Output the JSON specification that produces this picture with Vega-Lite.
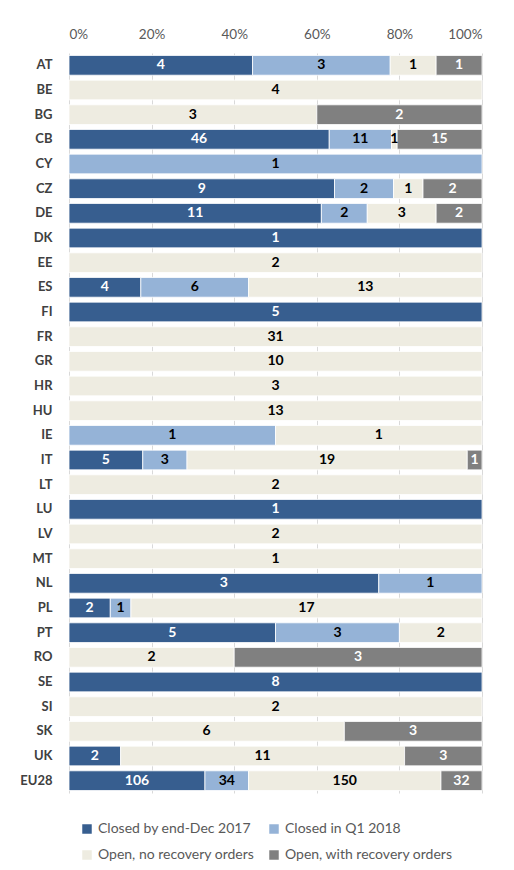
{
  "$schema": "https://vega.github.io/schema/vega-lite/v6.json",
  "width": 413,
  "height": 740,
  "autosize": {"type": "none"},
  "padding": {"left": 69, "top": 53, "right": 32, "bottom": 77},
  "background": "white",
  "config": {
    "font": "Lato",
    "view": {"stroke": null},
    "axis": {"labelFont": "Lato"},
    "legend": {"labelFont": "Lato"}
  },
  "data": {
    "values": [
      {"country": "AT", "Closed by end-Dec 2017": 4, "Closed in Q1 2018": 3, "Open, no recovery orders": 1, "Open, with recovery orders": 1},
      {"country": "BE", "Closed by end-Dec 2017": 0, "Closed in Q1 2018": 0, "Open, no recovery orders": 4, "Open, with recovery orders": 0},
      {"country": "BG", "Closed by end-Dec 2017": 0, "Closed in Q1 2018": 0, "Open, no recovery orders": 3, "Open, with recovery orders": 2},
      {"country": "CB", "Closed by end-Dec 2017": 46, "Closed in Q1 2018": 11, "Open, no recovery orders": 1, "Open, with recovery orders": 15},
      {"country": "CY", "Closed by end-Dec 2017": 0, "Closed in Q1 2018": 1, "Open, no recovery orders": 0, "Open, with recovery orders": 0},
      {"country": "CZ", "Closed by end-Dec 2017": 9, "Closed in Q1 2018": 2, "Open, no recovery orders": 1, "Open, with recovery orders": 2},
      {"country": "DE", "Closed by end-Dec 2017": 11, "Closed in Q1 2018": 2, "Open, no recovery orders": 3, "Open, with recovery orders": 2},
      {"country": "DK", "Closed by end-Dec 2017": 1, "Closed in Q1 2018": 0, "Open, no recovery orders": 0, "Open, with recovery orders": 0},
      {"country": "EE", "Closed by end-Dec 2017": 0, "Closed in Q1 2018": 0, "Open, no recovery orders": 2, "Open, with recovery orders": 0},
      {"country": "ES", "Closed by end-Dec 2017": 4, "Closed in Q1 2018": 6, "Open, no recovery orders": 13, "Open, with recovery orders": 0},
      {"country": "FI", "Closed by end-Dec 2017": 5, "Closed in Q1 2018": 0, "Open, no recovery orders": 0, "Open, with recovery orders": 0},
      {"country": "FR", "Closed by end-Dec 2017": 0, "Closed in Q1 2018": 0, "Open, no recovery orders": 31, "Open, with recovery orders": 0},
      {"country": "GR", "Closed by end-Dec 2017": 0, "Closed in Q1 2018": 0, "Open, no recovery orders": 10, "Open, with recovery orders": 0},
      {"country": "HR", "Closed by end-Dec 2017": 0, "Closed in Q1 2018": 0, "Open, no recovery orders": 3, "Open, with recovery orders": 0},
      {"country": "HU", "Closed by end-Dec 2017": 0, "Closed in Q1 2018": 0, "Open, no recovery orders": 13, "Open, with recovery orders": 0},
      {"country": "IE", "Closed by end-Dec 2017": 0, "Closed in Q1 2018": 1, "Open, no recovery orders": 1, "Open, with recovery orders": 0},
      {"country": "IT", "Closed by end-Dec 2017": 5, "Closed in Q1 2018": 3, "Open, no recovery orders": 19, "Open, with recovery orders": 1},
      {"country": "LT", "Closed by end-Dec 2017": 0, "Closed in Q1 2018": 0, "Open, no recovery orders": 2, "Open, with recovery orders": 0},
      {"country": "LU", "Closed by end-Dec 2017": 1, "Closed in Q1 2018": 0, "Open, no recovery orders": 0, "Open, with recovery orders": 0},
      {"country": "LV", "Closed by end-Dec 2017": 0, "Closed in Q1 2018": 0, "Open, no recovery orders": 2, "Open, with recovery orders": 0},
      {"country": "MT", "Closed by end-Dec 2017": 0, "Closed in Q1 2018": 0, "Open, no recovery orders": 1, "Open, with recovery orders": 0},
      {"country": "NL", "Closed by end-Dec 2017": 3, "Closed in Q1 2018": 1, "Open, no recovery orders": 0, "Open, with recovery orders": 0},
      {"country": "PL", "Closed by end-Dec 2017": 2, "Closed in Q1 2018": 1, "Open, no recovery orders": 17, "Open, with recovery orders": 0},
      {"country": "PT", "Closed by end-Dec 2017": 5, "Closed in Q1 2018": 3, "Open, no recovery orders": 2, "Open, with recovery orders": 0},
      {"country": "RO", "Closed by end-Dec 2017": 0, "Closed in Q1 2018": 0, "Open, no recovery orders": 2, "Open, with recovery orders": 3},
      {"country": "SE", "Closed by end-Dec 2017": 8, "Closed in Q1 2018": 0, "Open, no recovery orders": 0, "Open, with recovery orders": 0},
      {"country": "SI", "Closed by end-Dec 2017": 0, "Closed in Q1 2018": 0, "Open, no recovery orders": 2, "Open, with recovery orders": 0},
      {"country": "SK", "Closed by end-Dec 2017": 0, "Closed in Q1 2018": 0, "Open, no recovery orders": 6, "Open, with recovery orders": 3},
      {"country": "UK", "Closed by end-Dec 2017": 2, "Closed in Q1 2018": 0, "Open, no recovery orders": 11, "Open, with recovery orders": 3},
      {"country": "EU28", "Closed by end-Dec 2017": 106, "Closed in Q1 2018": 34, "Open, no recovery orders": 150, "Open, with recovery orders": 32}
    ]
  },
  "transform": [
    {"fold": ["Closed by end-Dec 2017", "Closed in Q1 2018", "Open, no recovery orders", "Open, with recovery orders"], "as": ["status", "n"]},
    {"filter": "datum.n > 0"},
    {"calculate": "indexof(['Closed by end-Dec 2017','Closed in Q1 2018','Open, no recovery orders','Open, with recovery orders'], datum.status)", "as": "ord"},
    {"stack": "n", "groupby": ["country"], "sort": [{"field": "ord", "order": "ascending"}], "offset": "normalize", "as": ["x0", "x1"]},
    {"calculate": "(datum.x0 + datum.x1) / 2", "as": "xm"}
  ],
  "encoding": {
    "y": {
      "field": "country",
      "type": "nominal",
      "sort": null,
      "title": null,
      "scale": {"paddingInner": 0.2, "paddingOuter": 0.1},
      "axis": {
        "domain": false,
        "ticks": false,
        "labelFontWeight": "bold",
        "labelFontSize": 13,
        "labelColor": "#404040",
        "labelPadding": 17
      }
    }
  },
  "layer": [
    {
      "mark": {"type": "bar", "stroke": "white", "strokeWidth": 0.8},
      "encoding": {
        "x": {
          "field": "x0",
          "type": "quantitative",
          "scale": {"domain": [0, 1], "nice": false},
          "title": null,
          "axis": {
            "orient": "top",
            "format": "%",
            "values": [0, 0.2, 0.4, 0.6, 0.8, 1],
            "domain": false,
            "ticks": false,
            "grid": true,
            "gridColor": "#d9d9d9",
            "gridWidth": 1,
            "labelColor": "#595959",
            "labelFontSize": 13.5,
            "labelPadding": 12
          }
        },
        "x2": {"field": "x1"},
        "color": {
          "field": "status",
          "type": "nominal",
          "title": null,
          "scale": {
            "domain": ["Closed by end-Dec 2017", "Closed in Q1 2018", "Open, no recovery orders", "Open, with recovery orders"],
            "range": ["#375E8F", "#95B3D7", "#EEECE1", "#808080"]
          },
          "legend": {
            "orient": "none",
            "legendX": 11,
            "legendY": 769,
            "direction": "horizontal",
            "columns": 2,
            "symbolType": "square",
            "symbolSize": 90,
            "symbolStrokeWidth": 0,
            "labelFontSize": 14,
            "labelColor": "#595959",
            "labelOffset": 4,
            "columnPadding": 12,
            "rowPadding": 12,
            "padding": 0,
            "labelLimit": 300
          }
        }
      }
    },
    {
      "mark": {"type": "text", "fontWeight": "bold", "fontSize": 14, "baseline": "middle", "align": "center"},
      "encoding": {
        "x": {"field": "xm", "type": "quantitative"},
        "text": {"field": "n", "type": "quantitative"},
        "color": {
          "condition": {"test": "datum.status === 'Closed by end-Dec 2017' || datum.status === 'Open, with recovery orders'", "value": "white"},
          "value": "black"
        }
      }
    }
  ]
}
